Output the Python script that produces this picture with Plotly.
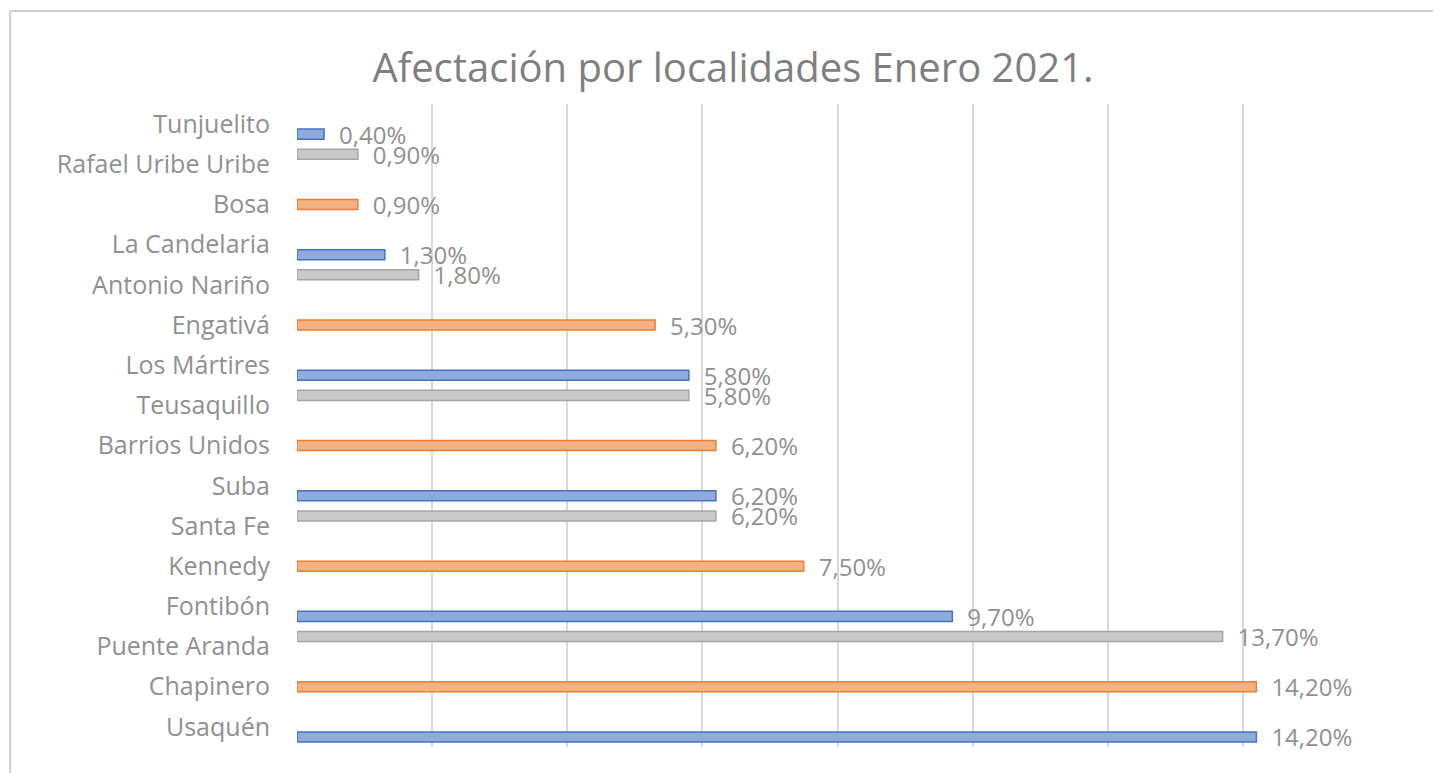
import plotly.graph_objects as go

categories = ["Usaquén", "Chapinero", "Puente Aranda", "Fontibón", "Kennedy", "Santa Fe",
              "Suba", "Barrios Unidos", "Teusaquillo", "Los Mártires", "Engativá",
              "Antonio Nariño", "La Candelaria", "Bosa", "Rafael Uribe Uribe", "Tunjuelito"]

# series 1 (blue), series 2 (orange), series 3 (gray)
blue_values = [14.2, None, None, 9.7, None, None, 6.2, None, None, 5.8, None, None, 1.3, None, None, 0.4]
orange_values = [None, 14.2, None, None, 7.5, None, None, 6.2, None, None, 5.3, None, None, 0.9, None, None]
gray_values = [None, None, 13.7, None, None, 6.2, None, None, 5.8, None, None, 1.8, None, None, 0.9, None]

x_ticks = [0, 2, 4, 6, 8, 10, 12, 14, 16]

def fmt(v):
    return "" if v is None else "\u2002" + f"{v:.2f}".replace(".", ",") + "%"

FONT = "Open Sans"
LABEL_COLOR = "#909090"

W, H = 1433, 765
ML, MR, MT, MB = 289, 63, 96, 26
PW, PH = W - ML - MR, H - MT - MB

fig = go.Figure()
series = [
    (blue_values, "#8faadc", "#4472c4"),
    (orange_values, "#f4b183", "#ed7d31"),
    (gray_values, "#c9c9c9", "#a5a5a5"),
]
for vals, fill, line in series:
    fig.add_trace(go.Bar(
        y=categories, x=vals, orientation="h",
        marker=dict(color=fill, line=dict(color=line, width=1.5)),
        text=[fmt(v) for v in vals], textposition="outside", constraintext="none",
        textfont=dict(family=FONT, size=24, color=LABEL_COLOR),
        cliponaxis=False, showlegend=False,
    ))

fig.update_layout(
    width=W, height=H,
    paper_bgcolor="white", plot_bgcolor="white",
    margin=dict(l=ML, r=MR, t=MT, b=MB, autoexpand=False),
    barmode="group", bargap=0.25, bargroupgap=0.0,
    title=dict(text="Afectación por localidades Enero 2021.",
               x=(725 - ML) / PW, xanchor="center", xref="paper",
               y=1 - 60 / H, yanchor="middle", yref="container",
               font=dict(family=FONT, size=40, color="#7f7f7f")),
    xaxis=dict(range=[0, 16], tickvals=x_ticks, showticklabels=False, showgrid=True,
               gridcolor="#d9d9d9", gridwidth=1.5, zeroline=False, showline=False),
    yaxis=dict(type="category", categoryorder="array", categoryarray=categories,
               showgrid=False, showline=False, ticks="", ticklabelstandoff=26,
               tickfont=dict(family=FONT, size=25, color=LABEL_COLOR)),
)

# outer chart border (light gray frame)
fig.add_shape(type="line", xref="paper", yref="paper",
              x0=(2 - ML) / PW, x1=(W + 10 - ML) / PW,
              y0=(H - MB - 3) / PH, y1=(H - MB - 3) / PH,
              line=dict(color="#d0d0d0", width=2))
fig.add_shape(type="line", xref="paper", yref="paper",
              x0=(2 - ML) / PW, x1=(2 - ML) / PW,
              y0=-(MB + 10) / PH, y1=(H - MB - 3) / PH,
              line=dict(color="#d0d0d0", width=2))

fig.write_html("out.html")
